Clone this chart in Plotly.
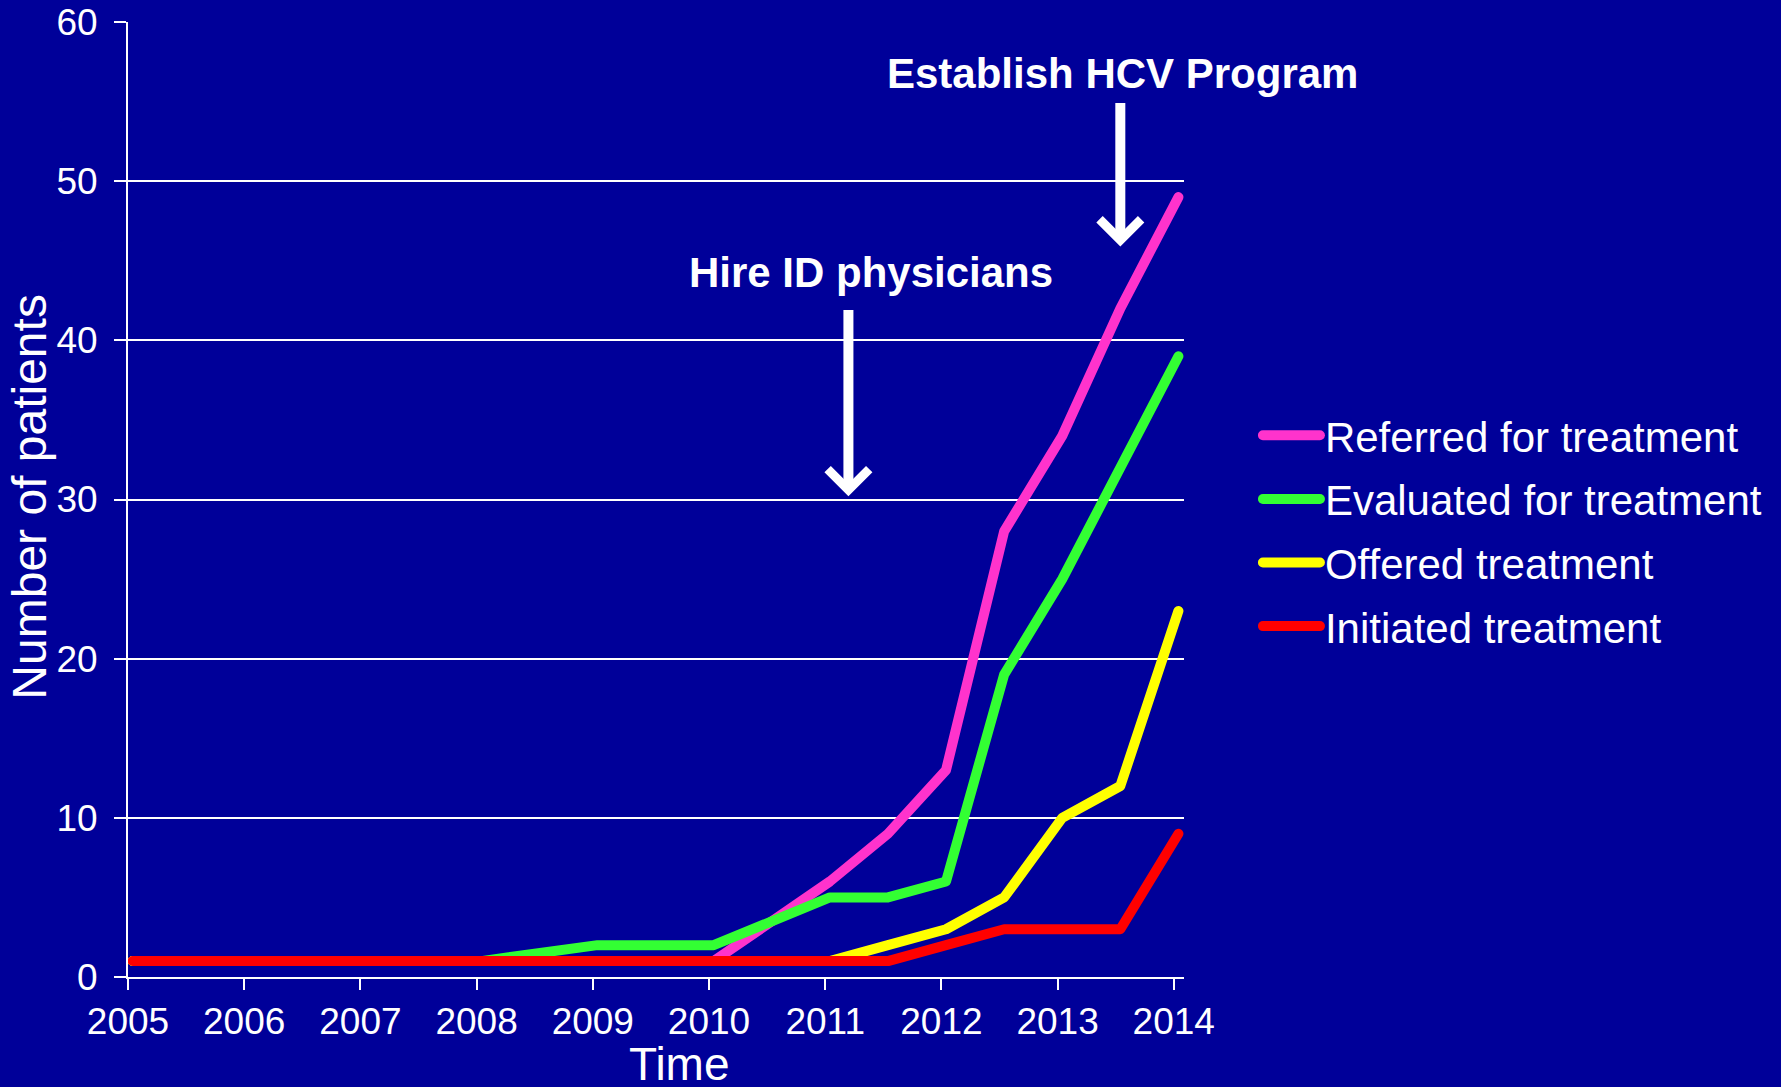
import plotly.graph_objects as go

# sample dates (mid-January / mid-July), as fractional years
years = [2005.04, 2006.04, 2007.04, 2008.04, 2009.04, 2010.04, 2011.04,
         2011.54, 2012.04, 2012.54, 2013.04, 2013.54, 2014.04]

referred = [1, 1, 1, 1, 1, 1, 6, 9, 13, 28, 34, 42, 49]
evaluated = [1, 1, 1, 1, 2, 2, 5, 5, 6, 19, 25, 32, 39]
offered = [1, 1, 1, 1, 1, 1, 1, 2, 3, 5, 10, 12, 23]
initiated = [1, 1, 1, 1, 1, 1, 1, 1, 2, 3, 3, 3, 9]

series_names = ["Referred for treatment", "Evaluated for treatment",
                "Offered treatment", "Initiated treatment"]
series_values = [referred, evaluated, offered, initiated]
series_colors = ["#FF33CC", "#33FF33", "#FFFF00", "#FF0000"]

tick_years = list(range(2005, 2015))

BG = "#000099"
FONT = "Liberation Sans, Arial, sans-serif"

fig = go.Figure()
for name, vals, color in zip(series_names, series_values, series_colors):
    fig.add_trace(
        go.Scatter(
            x=years,
            y=vals,
            name=name,
            mode="lines",
            line=dict(color=color, width=10),
            legendgroup=name,
        )
    )

# arrows pointing at the two milestones
fig.add_annotation(x=2013.54, y=45.9, ax=2013.54, ay=55.0, xref="x", yref="y",
                   axref="x", ayref="y", showarrow=True, arrowhead=4,
                   arrowsize=0.8, arrowwidth=10, arrowcolor="white", text="")
fig.add_annotation(x=2011.2, y=30.2, ax=2011.2, ay=42.0, xref="x", yref="y",
                   axref="x", ayref="y", showarrow=True, arrowhead=4,
                   arrowsize=0.8, arrowwidth=10, arrowcolor="white", text="")

fig.add_annotation(x=2013.56, y=56.78, xref="x", yref="y", showarrow=False,
                   xanchor="center", yanchor="middle",
                   text="<b>Establish HCV Program</b>",
                   font=dict(family=FONT, size=42, color="white"))
fig.add_annotation(x=2011.39, y=44.27, xref="x", yref="y", showarrow=False,
                   xanchor="center", yanchor="middle",
                   text="<b>Hire ID physicians</b>",
                   font=dict(family=FONT, size=42, color="white"))

# axis titles
fig.add_annotation(x=0.5227, y=-0.0915, xref="paper", yref="paper",
                   xanchor="center", yanchor="middle",
                   showarrow=False, text="Time",
                   font=dict(family=FONT, size=46, color="white"))
fig.add_annotation(x=-0.0928, y=0.503, xref="paper", yref="paper",
                   xanchor="center", yanchor="middle",
                   showarrow=False, text="Number of patients", textangle=-90,
                   font=dict(family=FONT, size=48, color="white"))

fig.update_xaxes(
    range=[2005, 2014.088],
    tickvals=tick_years,
    ticktext=[str(y) for y in tick_years],
    showgrid=False,
    zeroline=False,
    showline=True,
    linecolor="white",
    linewidth=2,
    ticks="outside",
    ticklen=11,
    tickwidth=2,
    tickcolor="white",
    tickfont=dict(family=FONT, size=37, color="white"),
)
fig.update_yaxes(
    range=[0, 60],
    tickvals=[0, 10, 20, 30, 40, 50, 60],
    showgrid=True,
    gridcolor="white",
    gridwidth=2,
    zeroline=False,
    showline=True,
    linecolor="white",
    linewidth=2,
    ticks="outside",
    ticklen=12,
    tickwidth=2,
    tickcolor="white",
    ticklabelstandoff=9,
    tickfont=dict(family=FONT, size=37, color="white"),
)

fig.update_layout(
    width=1781,
    height=1087,
    paper_bgcolor=BG,
    plot_bgcolor=BG,
    margin=dict(l=128, r=597, t=22, b=110, autoexpand=False),
    showlegend=True,
    legend=dict(
        x=1.07,
        y=0.6026,
        xanchor="left",
        yanchor="top",
        bgcolor="rgba(0,0,0,0)",
        font=dict(family=FONT, size=42, color="white"),
        tracegroupgap=6,
        itemwidth=57,
    ),
)

# no page margin, and rounded line ends/joins like the original slide
post = (
    "document.body.style.margin='0';"
    "document.body.style.overflow='hidden';"
    "document.querySelectorAll('.js-line').forEach(function(p){"
    "p.style.strokeLinecap='round';p.style.strokeLinejoin='round';});"
)

fig.write_html("out.html", config={"displayModeBar": False}, post_script=post)
